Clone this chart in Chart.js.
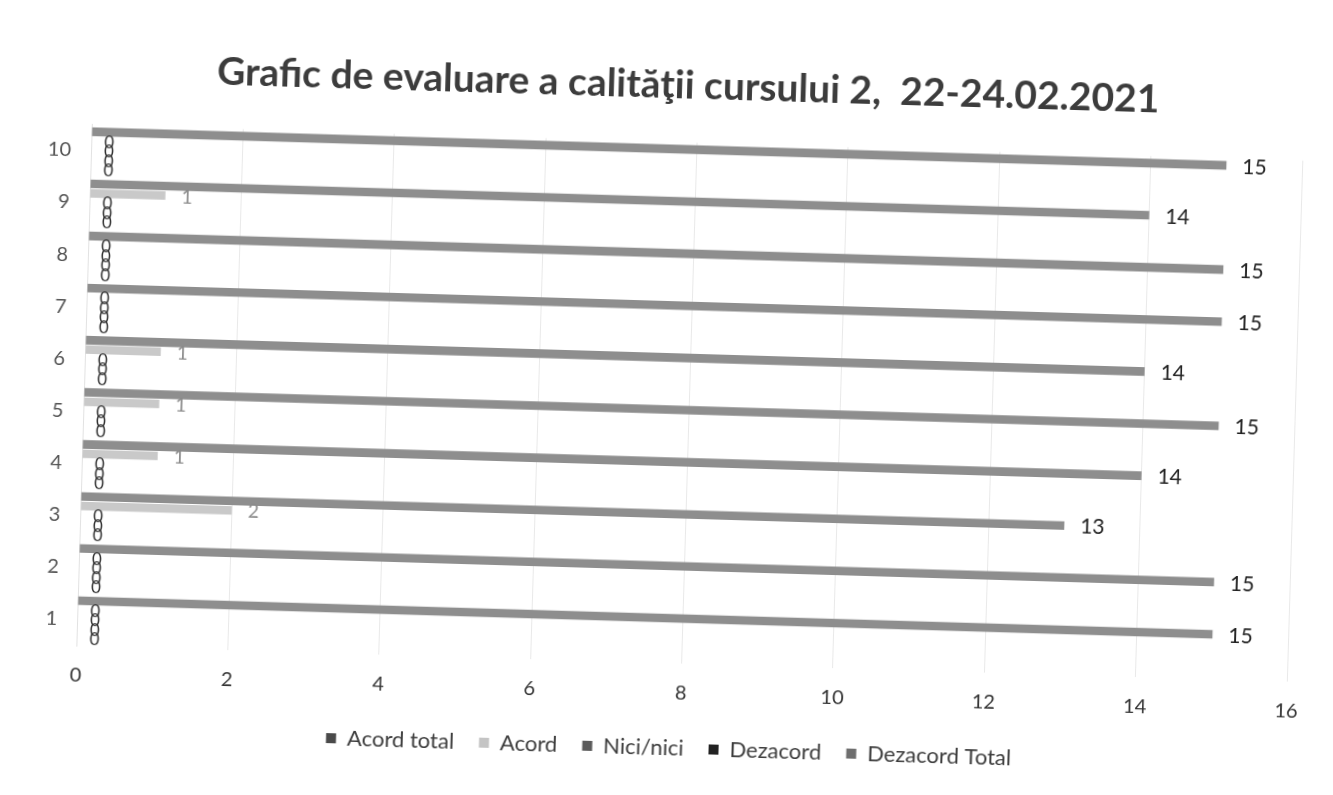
<!DOCTYPE html>
<html>
<head>
<meta charset="utf-8">
<script src="https://cdn.jsdelivr.net/npm/chart.js@4.4.1/dist/chart.umd.min.js"></script>
<style>
  html, body { margin: 0; padding: 0; background: #fff; overflow: hidden; }
  #wrap { position: absolute; left: 0; top: 0; width: 1333px; height: 795px;
          transform: rotate(1.7deg); transform-origin: 666px 397px; }
</style>
</head>
<body>
<div id="wrap"><canvas id="c" width="1333" height="795"></canvas></div>
<script>
const title = 'Grafic de evaluare a calităţii cursului 2,  22-24.02.2021';
const categories = ['1', '2', '3', '4', '5', '6', '7', '8', '9', '10'];
const seriesNames = ['Acord total', 'Acord', 'Nici/nici', 'Dezacord', 'Dezacord Total'];
const acordTotal    = [15, 15, 13, 14, 15, 14, 15, 15, 14, 15];
const acord         = [0, 0, 2, 1, 1, 1, 0, 0, 1, 0];
const niciNici      = [0, 0, 0, 0, 0, 0, 0, 0, 0, 0];
const dezacord      = [0, 0, 0, 0, 0, 0, 0, 0, 0, 0];
const dezacordTotal = [0, 0, 0, 0, 0, 0, 0, 0, 0, 0];
const xMin = 0, xMax = 16, xStep = 2;

const barColors    = ['#8e8e8e', '#c9c9c9', '#5c5c5c', '#262626', '#707070'];
const legendColors = ['#4a4a4a', '#c4c4c4', '#5a5a5a', '#222222', '#6e6e6e'];
const labelColors  = ['#222222', '#8a8a8a', '#333333', '#333333', '#333333'];
const FONT = 'Lato, "Open Sans", sans-serif';

const rev = a => a.slice().reverse();
const allSeries = [acordTotal, acord, niciNici, dezacord, dezacordTotal];

const datasets = allSeries.map((vals, i) => ({
  label: seriesNames[i],
  data: rev(vals),
  backgroundColor: barColors[i],
  borderWidth: 0,
  categoryPercentage: 0.91,
  barPercentage: 0.9
}));

const valueLabels = {
  id: 'valueLabels',
  afterDatasetsDraw(chart) {
    const ctx = chart.ctx;
    chart.data.datasets.forEach((ds, di) => {
      const meta = chart.getDatasetMeta(di);
      if (meta.hidden) return;
      meta.data.forEach((el, i) => {
        const v = ds.data[i];
        ctx.save();
        const size = v === 0 ? 17 : (di === 0 ? 21 : 19);
        ctx.font = size + 'px ' + FONT;
        ctx.fillStyle = v === 0 ? '#333333' : labelColors[di];
        ctx.textAlign = 'left';
        ctx.textBaseline = 'middle';
        ctx.fillText(String(v), el.x + (v === 0 ? 13 : 16), el.y + 1);
        ctx.restore();
      });
    });
  }
};

new Chart(document.getElementById('c'), {
  type: 'bar',
  data: { labels: rev(categories), datasets },
  plugins: [valueLabels],
  options: {
    indexAxis: 'y',
    responsive: false,
    animation: false,
    layout: { padding: { left: 63, right: 38, top: 0, bottom: 26 } },
    plugins: {
      title: {
        display: true, text: title, color: '#3c3c3c',
        font: { family: FONT, size: 39, weight: 'bold' },
        padding: { top: 62, bottom: 33 }
      },
      legend: {
        position: 'bottom',
        labels: {
          color: '#3c3c3c', font: { family: FONT, size: 22 },
          boxWidth: 10, boxHeight: 10, padding: 25,
          generateLabels(chart) {
            return chart.data.datasets.map((ds, i) => ({
              text: ds.label, fillStyle: legendColors[i], strokeStyle: legendColors[i],
              lineWidth: 0, hidden: false, datasetIndex: i, fontColor: '#3c3c3c'
            }));
          }
        }
      },
      tooltip: { enabled: false }
    },
    scales: {
      x: {
        min: xMin, max: xMax,
        ticks: { stepSize: xStep, color: '#333', font: { family: FONT, size: 20 }, padding: 18 },
        grid: { color: '#e9e9e9', drawTicks: false },
        border: { display: false },
        afterFit(s) { s.height = 49; }
      },
      y: {
        ticks: { color: '#555', font: { family: FONT, size: 20 }, padding: 20 },
        grid: { display: false, drawTicks: false },
        border: { color: '#e2e2e2' },
        afterFit(s) { s.width = 21; s._computeLabelArea = () => undefined; }
      }
    }
  }
});
</script>
</body>
</html>
